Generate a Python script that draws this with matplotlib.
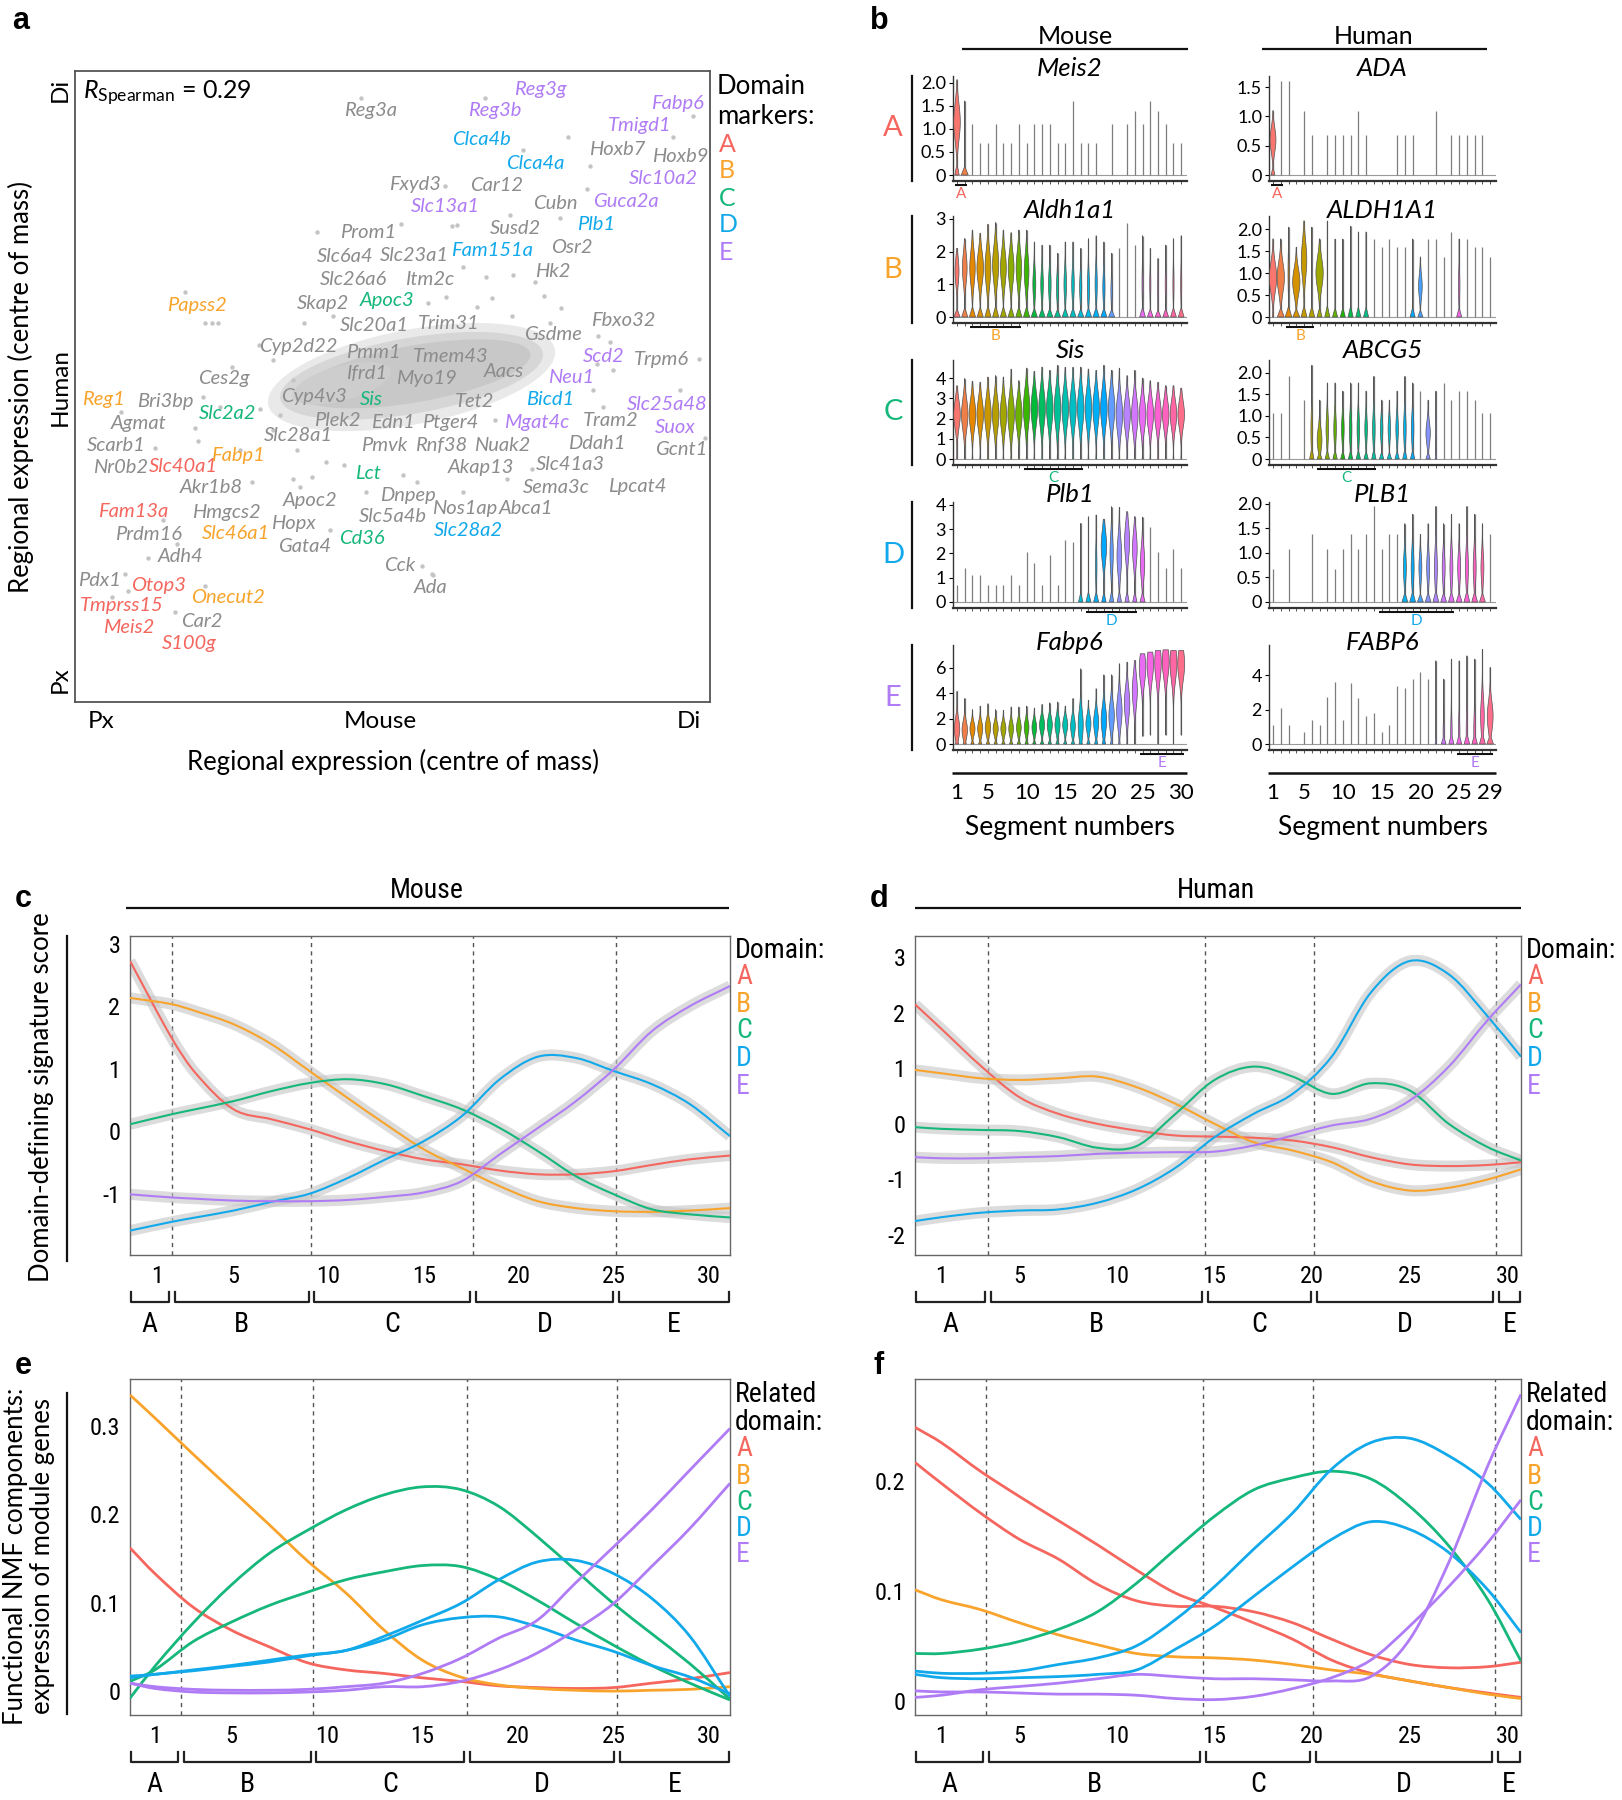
import numpy as np
import matplotlib
matplotlib.use('Agg')
import matplotlib.pyplot as plt
from matplotlib import font_manager as fm
from matplotlib.path import Path
from matplotlib.patches import PathPatch, Ellipse


def pick_font(names):
    for n in names:
        try:
            fm.findfont(fm.FontProperties(family=n), fallback_to_default=False)
            return n
        except ValueError:
            continue
    return 'DejaVu Sans'


SANS = pick_font(['Lato', 'Open Sans', 'DejaVu Sans'])
NARROW = pick_font(['Liberation Sans Narrow', 'Roboto Condensed', 'Roboto', SANS])
BOLD = pick_font(['Liberation Sans', 'DejaVu Sans'])

plt.rcParams['font.family'] = [SANS, 'DejaVu Sans']
plt.rcParams['mathtext.fontset'] = 'custom'
plt.rcParams['mathtext.rm'] = SANS
plt.rcParams['mathtext.it'] = SANS + ':italic'
plt.rcParams['axes.unicode_minus'] = False

W, H = 1622, 1800
DOMS = ['A', 'B', 'C', 'D', 'E']
COL = {'A': '#F4665E', 'B': '#F8A42C', 'C': '#16B77B', 'D': '#12A9EB', 'E': '#B07CF5', '': '#8C8C8C'}

# ---------------- panel a: gene labels (axes fraction) ----------------
gene_names = ['Reg3a', 'Reg3g', 'Reg3b', 'Fabp6', 'Tmigd1', 'Clca4b', 'Hoxb7', 'Hoxb9', 'Clca4a', 'Slc10a2',
              'Fxyd3', 'Car12', 'Slc13a1', 'Cubn', 'Guca2a', 'Prom1', 'Susd2', 'Plb1', 'Slc6a4', 'Slc23a1',
              'Fam151a', 'Osr2', 'Slc26a6', 'Itm2c', 'Hk2', 'Papss2', 'Skap2', 'Apoc3', 'Slc20a1', 'Trim31',
              'Fbxo32', 'Gsdme', 'Cyp2d22', 'Pmm1', 'Tmem43', 'Scd2', 'Trpm6', 'Ces2g', 'Ifrd1', 'Myo19',
              'Aacs', 'Neu1', 'Reg1', 'Bri3bp', 'Slc2a2', 'Cyp4v3', 'Sis', 'Tet2', 'Bicd1', 'Slc25a48',
              'Agmat', 'Plek2', 'Edn1', 'Ptger4', 'Mgat4c', 'Tram2', 'Suox', 'Scarb1', 'Slc28a1', 'Pmvk',
              'Rnf38', 'Nuak2', 'Ddah1', 'Gcnt1', 'Nr0b2', 'Slc40a1', 'Fabp1', 'Lct', 'Akap13', 'Slc41a3',
              'Akr1b8', 'Dnpep', 'Sema3c', 'Lpcat4', 'Fam13a', 'Hmgcs2', 'Apoc2', 'Nos1ap', 'Abca1', 'Prdm16',
              'Slc46a1', 'Hopx', 'Slc5a4b', 'Cd36', 'Slc28a2', 'Gata4', 'Adh4', 'Cck', 'Ada', 'Pdx1',
              'Otop3', 'Onecut2', 'Tmprss15', 'Car2', 'Meis2', 'S100g']
gene_x = [0.465, 0.732, 0.661, 0.948, 0.889, 0.640, 0.854, 0.953, 0.724, 0.926,
          0.535, 0.664, 0.583, 0.756, 0.868, 0.462, 0.694, 0.820, 0.426, 0.535,
          0.656, 0.782, 0.438, 0.559, 0.753, 0.192, 0.391, 0.491, 0.472, 0.588,
          0.863, 0.753, 0.352, 0.470, 0.591, 0.832, 0.924, 0.234, 0.459, 0.554,
          0.675, 0.781, 0.045, 0.142, 0.240, 0.376, 0.467, 0.630, 0.748, 0.933,
          0.100, 0.413, 0.501, 0.591, 0.727, 0.844, 0.946, 0.065, 0.352, 0.487,
          0.577, 0.672, 0.821, 0.955, 0.072, 0.170, 0.256, 0.462, 0.639, 0.780,
          0.215, 0.525, 0.758, 0.886, 0.091, 0.238, 0.370, 0.614, 0.710, 0.115,
          0.253, 0.344, 0.501, 0.451, 0.620, 0.361, 0.166, 0.512, 0.560, 0.038,
          0.131, 0.241, 0.073, 0.199, 0.084, 0.180]
gene_y = [0.938, 0.971, 0.937, 0.948, 0.913, 0.891, 0.875, 0.865, 0.854, 0.830,
          0.820, 0.819, 0.785, 0.790, 0.793, 0.744, 0.751, 0.757, 0.706, 0.707,
          0.716, 0.720, 0.670, 0.670, 0.682, 0.628, 0.631, 0.636, 0.596, 0.600,
          0.605, 0.582, 0.564, 0.554, 0.548, 0.548, 0.542, 0.512, 0.521, 0.513,
          0.523, 0.514, 0.479, 0.477, 0.457, 0.484, 0.479, 0.477, 0.479, 0.472,
          0.441, 0.446, 0.443, 0.443, 0.443, 0.446, 0.435, 0.407, 0.422, 0.407,
          0.406, 0.406, 0.410, 0.400, 0.372, 0.373, 0.390, 0.362, 0.371, 0.376,
          0.340, 0.328, 0.340, 0.342, 0.302, 0.301, 0.319, 0.306, 0.307, 0.266,
          0.267, 0.283, 0.294, 0.259, 0.272, 0.247, 0.230, 0.217, 0.182, 0.193,
          0.185, 0.166, 0.153, 0.127, 0.118, 0.092]
gene_dom = ['', 'E', 'E', 'E', 'E', 'D', '', '', 'D', 'E',
            '', '', 'E', '', 'E', '', '', 'D', '', '',
            'D', '', '', '', '', 'B', '', 'C', '', '',
            '', '', '', '', '', 'E', '', '', '', '',
            '', 'E', 'B', '', 'C', '', 'C', '', 'D', 'E',
            '', '', '', '', 'E', '', 'E', '', '', '',
            '', '', '', '', '', 'A', 'B', 'C', '', '',
            '', '', '', '', 'A', '', '', '', '', '',
            'B', '', '', 'C', 'D', '', '', '', '', '',
            'A', 'B', 'A', '', 'A', 'A']

# scattered genes outside the dense core (axes fraction)
dot_x = [0.451, 0.583, 0.514, 0.381, 0.601, 0.173, 0.205, 0.215, 0.225, 0.556, 0.585, 0.407, 0.360, 0.289,
         0.247, 0.646, 0.777, 0.706, 0.811, 0.942, 0.974, 0.806, 0.685, 0.764, 0.594, 0.611, 0.648, 0.690,
         0.724, 0.738, 0.766, 0.656, 0.633, 0.688, 0.824, 0.843, 0.748, 0.982, 0.848, 0.822, 0.073, 0.202,
         0.189, 0.194, 0.126, 0.260, 0.278, 0.139, 0.160, 0.115, 0.078, 0.084, 0.058, 0.157, 0.205, 0.344,
         0.354, 0.373, 0.396, 0.423, 0.459, 0.517, 0.538, 0.402, 0.546, 0.564, 0.312, 0.349, 0.312, 0.344,
         0.323, 0.291, 0.228, 0.953, 0.992, 0.832, 0.816, 0.661, 0.719, 0.680, 0.611, 0.562]
dot_y = [0.957, 0.817, 0.758, 0.745, 0.756, 0.649, 0.601, 0.601, 0.601, 0.632, 0.642, 0.611, 0.600, 0.566,
         0.531, 0.957, 0.896, 0.875, 0.850, 0.895, 0.929, 0.813, 0.771, 0.767, 0.754, 0.690, 0.673, 0.677,
         0.665, 0.643, 0.624, 0.641, 0.626, 0.611, 0.580, 0.571, 0.601, 0.543, 0.526, 0.536, 0.460, 0.484,
         0.434, 0.413, 0.402, 0.399, 0.349, 0.289, 0.251, 0.229, 0.203, 0.176, 0.166, 0.143, 0.184, 0.354,
         0.341, 0.357, 0.381, 0.375, 0.333, 0.360, 0.349, 0.273, 0.216, 0.201, 0.431, 0.399, 0.542, 0.510,
         0.455, 0.465, 0.468, 0.495, 0.419, 0.468, 0.494, 0.447, 0.370, 0.354, 0.333, 0.203]

# ---------------- panel b: violin summaries ----------------
mouse_genes = ['Meis2', 'Aldh1a1', 'Sis', 'Plb1', 'Fabp6']
human_genes = ['ADA', 'ALDH1A1', 'ABCG5', 'PLB1', 'FABP6']

meis2_top = [2.07, 1.61, 1.1, 0.69, 0.69, 1.1, 0.69, 0.69, 1.1, 0.69, 1.1, 1.1, 1.1, 0.69, 0.69,
             1.61, 0.69, 0.69, 0.69, 0, 1.1, 0, 1.1, 1.39, 1.1, 1.61, 1.39, 1.1, 0.69, 0.69]
meis2_mid = [1.15, 0.3] + [0] * 28
meis2_wmid = [0.9, 0] + [0] * 28
meis2_wbase = [0.6, 0.95] + [0] * 28

aldh1a1_top = [2.1, 2.4, 2.66, 2.56, 2.84, 2.89, 2.66, 2.58, 2.66, 2.66, 2.3, 2.2, 2.2, 1.95, 2.3,
               2.3, 2.1, 2.4, 2.49, 2.3, 1.95, 2.1, 2.89, 2.2, 2.49, 2.1, 1.79, 2.2, 2.4, 2.49]
aldh1a1_mid = [1.4, 1.5, 1.5, 1.5, 1.5, 1.6, 1.5, 1.5, 1.5, 1.4, 1.0, 1.0, 1.0, 0.9, 1.0,
               1.0, 0.9, 0.9, 1.0, 0.9, 0.8, 0, 0, 0, 1.0, 1.0, 0.9, 1.0, 1.0, 1.0]
aldh1a1_wmid = [0.55, 0.65, 0.75, 0.9, 0.8, 0.85, 0.8, 0.8, 0.75, 0.65, 0.4, 0.35, 0.35, 0.3, 0.35,
                0.35, 0.3, 0.3, 0.3, 0.3, 0.2, 0, 0, 0, 0.15, 0.15, 0.12, 0.15, 0.15, 0.15]
aldh1a1_wbase = [0.85] * 21 + [0, 0, 0] + [0.8] * 6

sis_top = [3.62, 3.97, 3.84, 3.79, 4.05, 4.12, 4.05, 4.44, 3.87, 4.49, 4.33, 4.54, 4.38, 4.63, 4.53,
           4.53, 4.54, 4.44, 4.38, 4.63, 4.38, 4.49, 4.12, 4.38, 4.0, 3.87, 3.79, 3.62, 3.62, 3.5]
sis_mid = [2.2] * 9 + [2.5] * 12 + [2.2] * 9
sis_wmid = [0.9] * 30
sis_wbase = [0.1] * 30

plb1_top = [0.69, 1.39, 1.1, 1.1, 0.69, 0.69, 0.69, 1.1, 0.69, 2.08, 1.61, 0.69, 1.95, 0.69, 2.56,
            2.49, 3.24, 3.52, 3.59, 3.41, 3.93, 3.9, 3.72, 3.52, 3.5, 3.1, 2.08, 1.39, 2.2, 1.39]
plb1_mid = [0] * 16 + [0, 0, 1.5, 2.3, 2.0, 1.9, 2.5, 2.2, 1.6] + [0] * 5
plb1_wmid = [0] * 16 + [0, 0, 0.2, 0.75, 0.45, 0.65, 0.7, 0.65, 0.6] + [0] * 5
plb1_wbase = [0] * 16 + [0.6, 0.7, 0.7, 0.6, 0.6, 0.6, 0.6, 0.6, 0.7] + [0] * 5

fabp6_top = [4.16, 3.59, 2.72, 3.0, 3.19, 2.72, 2.67, 2.93, 2.93, 3.0, 2.85, 3.12, 3.25, 3.32, 3.0,
             3.59, 5.94, 3.46, 4.37, 5.47, 5.47, 6.34, 6.47, 6.6, 7.12, 7.25, 7.38, 7.43, 7.38, 7.38]
fabp6_low = [0] * 24 + [0.6, 0.7, 0, 0.7, 0, 0.7]
fabp6_mid = [1.2, 1.1, 1.2, 1.2, 1.3, 1.2, 1.2, 1.2, 1.3, 1.3, 1.3, 1.5, 1.5, 1.5, 1.5,
             1.4, 1.5, 1.6, 1.7, 1.9, 2.2, 2.6, 3.2, 4.2, 6.0, 6.3, 6.4, 6.5, 6.4, 6.3]
fabp6_wmid = [0.75, 0.75, 0.7, 0.7, 0.75, 0.7, 0.7, 0.65, 0.65, 0.65, 0.65, 0.7, 0.7, 0.7, 0.7,
              0.65, 0.7, 0.7, 0.7, 0.75, 0.75, 0.75, 0.75, 0.7, 0.9, 0.9, 0.9, 0.95, 0.95, 0.95]
fabp6_wbase = [0.45] * 20 + [0.3, 0.2, 0.1, 0.05] + [0] * 6

ada_top = [1.1, 1.61, 1.61, 0, 1.1, 0.69, 0, 0.69, 0.69, 0.69, 0.69, 1.1, 0.69, 0, 0,
           0, 0.69, 0.69, 0.69, 0, 0, 1.1, 0, 0.69, 0.69, 0.69, 0.69, 0.69, 0]
ada_mid = [0.6] + [0] * 28
ada_wmid = [0.8] + [0] * 28
ada_wbase = [0.5] + [0] * 28

h_aldh1a1_top = [1.78, 1.78, 2.05, 1.59, 2.19, 2.05, 1.78, 2.19, 1.78, 1.78, 2.07, 1.94, 1.94, 1.78, 1.59,
                 1.78, 1.59, 1.59, 1.78, 1.37, 1.78, 1.78, 1.37, 1.94, 1.78, 1.78, 1.59, 1.59, 1.37]
h_aldh1a1_mid = [0.9, 0.9, 1.0, 0.8, 1.3, 0, 1.0, 0, 0, 0, 0, 0, 0, 0, 0,
                 0, 0, 0, 0, 0.7, 0, 0, 0, 0, 0.7, 0, 0, 0, 0]
h_aldh1a1_wmid = [1.0, 1.0, 0.15, 1.0, 0.75, 0, 1.0, 0, 0, 0, 0, 0, 0, 0, 0,
                  0, 0, 0, 0, 0.5, 0, 0, 0, 0, 0.2, 0, 0, 0, 0]
h_aldh1a1_wbase = [0.2, 0.95, 0.9, 0.95, 0.8, 0.8, 0.7, 0.7, 0.7, 0.7, 0.7, 0.7, 0.7, 0, 0,
                   0, 0, 0, 0.7, 0.7, 0, 0, 0, 0, 0.7, 0, 0, 0, 0]

abcg5_top = [1.08, 1.08, 1.92, 0, 1.37, 2.18, 1.37, 1.77, 1.77, 1.58, 1.77, 1.77, 1.58, 1.92, 1.37,
             1.37, 1.58, 1.92, 1.77, 1.58, 1.37, 1.58, 1.77, 1.37, 1.58, 1.58, 1.37, 1.08, 1.08]
abcg5_mid = [0] * 5 + [0.65, 0.45] + [0.7] * 12 + [0, 0.6, 0.7] + [0] * 7
abcg5_wmid = [0] * 5 + [0.25, 0.65] + [0.35] * 12 + [0, 0.6, 0.1] + [0] * 7
abcg5_wbase = [0] * 5 + [0.6, 0.7] + [0.6] * 12 + [0, 0.6, 0.2] + [0] * 7

h_plb1_top = [0.68, 0, 1.09, 0, 0, 1.38, 0, 1.09, 0.68, 1.09, 1.38, 1.09, 1.38, 1.95, 1.09,
              1.38, 1.38, 1.6, 1.79, 1.38, 1.6, 1.95, 1.6, 1.79, 1.6, 1.95, 1.79, 1.6, 1.38]
h_plb1_mid = [0] * 17 + [0.7] * 11 + [0]
h_plb1_wmid = [0] * 17 + [0.4] * 11 + [0]
h_plb1_wbase = [0] * 17 + [0.8] * 11 + [0]

h_fabp6_top = [1.1, 2.07, 1.1, 0, 0.68, 1.39, 1.1, 2.74, 3.61, 1.39, 3.52, 2.65, 1.62, 1.78, 0.68,
               1.1, 3.36, 3.23, 3.75, 4.19, 3.75, 4.83, 3.77, 4.93, 4.83, 5.12, 4.93, 5.49, 4.44]
h_fabp6_mid = [0] * 22 + [0.6, 0.6, 0.6, 0.7, 0.8, 1.6, 1.6]
h_fabp6_wmid = [0] * 22 + [0.15, 0.2, 0.2, 0.2, 0.25, 0.5, 0.8]
h_fabp6_wbase = [0] * 21 + [0.2, 0.65, 0.7, 0.7, 0.75, 0.75, 0.8, 0.9]

mouse_marks = [(1, 2), (3, 9), (10, 17), (18, 24), (25, 30)]
human_marks = [(1, 2), (3, 6), (7, 14), (15, 24), (25, 29)]
mouse_ymax = [2.15, 3.09, 4.89, 4.12, 7.81]
human_ymax = [1.69, 2.30, 2.30, 2.04, 5.74]
mouse_yticks = [[0, 0.5, 1, 1.5, 2], [0, 1, 2, 3], [0, 1, 2, 3, 4], [0, 1, 2, 3, 4], [0, 2, 4, 6]]
human_yticks = [[0, 0.5, 1, 1.5], [0, 0.5, 1, 1.5, 2], [0, 0.5, 1, 1.5, 2], [0, 0.5, 1, 1.5, 2], [0, 2, 4]]

# ---------------- panels c-f: smoothed profiles ----------------
c_x = [-0.44, 1.75, 3, 5, 7, 9, 11, 13, 15, 17, 19, 21, 23, 25, 27, 29, 31.1]
c_A = [2.72, 1.49, 0.93, 0.35, 0.19, 0.03, -0.16, -0.32, -0.45, -0.53, -0.63, -0.69, -0.69, -0.64, -0.54, -0.45, -0.39]
c_B = [2.13, 2.03, 1.92, 1.71, 1.39, 0.96, 0.53, 0.11, -0.29, -0.59, -0.88, -1.12, -1.23, -1.28, -1.29, -1.27, -1.23]
c_C = [0.11, 0.27, 0.35, 0.48, 0.64, 0.77, 0.83, 0.75, 0.56, 0.35, 0.05, -0.32, -0.72, -1.01, -1.25, -1.33, -1.38]
c_D = [-1.59, -1.45, -1.38, -1.27, -1.13, -1.0, -0.75, -0.45, -0.16, 0.24, 0.83, 1.19, 1.17, 0.96, 0.75, 0.43, -0.08]
c_E = [-1.01, -1.06, -1.08, -1.11, -1.12, -1.12, -1.1, -1.05, -0.98, -0.8, -0.37, 0.05, 0.48, 0.99, 1.6, 2.0, 2.32]
c_bounds = [1.75, 9.1, 17.6, 25.1]

d_x = [-0.35, 1, 3, 5, 7, 9, 11, 13, 15, 17, 19, 21, 23, 25, 27, 29, 30.7]
d_A = [2.15, 1.71, 1.05, 0.48, 0.18, 0.0, -0.12, -0.21, -0.23, -0.25, -0.3, -0.42, -0.6, -0.73, -0.76, -0.74, -0.69]
d_B = [0.97, 0.91, 0.82, 0.79, 0.82, 0.85, 0.66, 0.36, 0.0, -0.33, -0.48, -0.69, -1.03, -1.2, -1.15, -1.0, -0.82]
d_C = [-0.06, -0.09, -0.11, -0.13, -0.24, -0.43, -0.4, 0.18, 0.79, 1.03, 0.85, 0.54, 0.73, 0.6, 0.0, -0.42, -0.66]
d_D = [-1.75, -1.68, -1.6, -1.56, -1.54, -1.42, -1.18, -0.79, -0.24, 0.18, 0.54, 1.21, 2.36, 2.93, 2.69, 1.93, 1.21]
d_E = [-0.6, -0.62, -0.62, -0.6, -0.58, -0.54, -0.52, -0.51, -0.5, -0.39, -0.21, -0.03, 0.09, 0.42, 1.03, 1.87, 2.51]
d_bounds = [3.4, 14.5, 20.1, 29.4]

e_x = [-0.3, 1, 3, 5, 7, 9, 11, 13, 15, 17, 19, 21, 23, 25, 27, 29, 31.1]
e_A = [0.162, 0.133, 0.095, 0.069, 0.05, 0.032, 0.024, 0.02, 0.015, 0.011, 0.006, 0.004, 0.003, 0.004, 0.009, 0.014, 0.021]
e_B = [0.335, 0.309, 0.268, 0.228, 0.188, 0.147, 0.111, 0.069, 0.035, 0.016, 0.007, 0.003, 0.001, 0.0, 0.001, 0.002, 0.005]
e_C1 = [-0.008, 0.028, 0.077, 0.12, 0.156, 0.182, 0.205, 0.222, 0.231, 0.228, 0.209, 0.175, 0.137, 0.099, 0.065, 0.031, -0.009]
e_C2 = [0.011, 0.024, 0.056, 0.078, 0.097, 0.112, 0.126, 0.135, 0.142, 0.141, 0.126, 0.103, 0.077, 0.052, 0.029, 0.009, -0.01]
e_D1 = [0.017, 0.019, 0.024, 0.029, 0.035, 0.041, 0.046, 0.062, 0.08, 0.099, 0.126, 0.146, 0.148, 0.133, 0.105, 0.062, -0.006]
e_D2 = [0.015, 0.019, 0.023, 0.028, 0.033, 0.04, 0.046, 0.058, 0.075, 0.083, 0.084, 0.073, 0.058, 0.045, 0.029, 0.016, -0.003]
e_E1 = [0.009, 0.005, 0.002, 0.001, 0.001, 0.002, 0.005, 0.009, 0.02, 0.037, 0.06, 0.08, 0.122, 0.163, 0.205, 0.25, 0.297]
e_E2 = [0.009, 0.003, -0.001, -0.002, -0.002, -0.001, 0.001, 0.005, 0.005, 0.011, 0.024, 0.043, 0.069, 0.099, 0.141, 0.184, 0.235]
e_bounds = [2.35, 9.3, 17.35, 25.2]

f_x = [-0.35, 1, 3, 5, 7, 9, 11, 13, 15, 17, 19, 21, 23, 25, 27, 29, 30.7]
f_A1 = [0.249, 0.235, 0.209, 0.186, 0.164, 0.142, 0.119, 0.098, 0.085, 0.071, 0.056, 0.037, 0.025, 0.018, 0.012, 0.007, 0.003]
f_A2 = [0.217, 0.198, 0.171, 0.147, 0.129, 0.106, 0.091, 0.086, 0.086, 0.081, 0.071, 0.056, 0.042, 0.033, 0.03, 0.031, 0.035]
f_B = [0.101, 0.092, 0.083, 0.071, 0.06, 0.051, 0.043, 0.04, 0.039, 0.037, 0.033, 0.028, 0.024, 0.018, 0.012, 0.006, 0.002]
f_C = [0.043, 0.043, 0.047, 0.054, 0.065, 0.081, 0.107, 0.138, 0.168, 0.192, 0.203, 0.209, 0.202, 0.177, 0.141, 0.092, 0.036]
f_D1 = [0.027, 0.025, 0.025, 0.027, 0.033, 0.039, 0.05, 0.074, 0.104, 0.138, 0.171, 0.211, 0.235, 0.239, 0.223, 0.198, 0.165]
f_D2 = [0.024, 0.021, 0.02, 0.021, 0.022, 0.024, 0.028, 0.047, 0.068, 0.095, 0.122, 0.147, 0.163, 0.156, 0.135, 0.101, 0.062]
f_E1 = [0.003, 0.005, 0.01, 0.013, 0.016, 0.02, 0.024, 0.022, 0.02, 0.02, 0.019, 0.018, 0.022, 0.056, 0.126, 0.214, 0.279]
f_E2 = [0.009, 0.008, 0.008, 0.007, 0.006, 0.006, 0.005, 0.002, 0.001, 0.004, 0.011, 0.021, 0.037, 0.068, 0.104, 0.144, 0.183]
f_bounds = [3.3, 14.4, 20.05, 29.35]


# ---------------- helpers ----------------
def hue_pal(n):
    # ggplot2 default hue palette (hcl, l=65, c=100)
    out = []
    for h in np.linspace(15, 375, n + 1)[:n]:
        L, C = 65.0, 100.0
        u, v = C * np.cos(np.radians(h)), C * np.sin(np.radians(h))
        Y = ((L + 16) / 116) ** 3
        un, vn = 0.1978398 + u / (13 * L), 0.4683363 + v / (13 * L)
        X = 9 * Y * un / (4 * vn)
        Z = -X / 3 - 5 * Y + 3 * Y / vn
        rgb = [3.240479 * X - 1.537150 * Y - 0.498535 * Z,
               -0.969256 * X + 1.875992 * Y + 0.041556 * Z,
               0.055648 * X - 0.204043 * Y + 1.057311 * Z]
        res = []
        for c in rgb:
            c = 12.92 * c if c <= 0.0031308 else 1.055 * c ** (1 / 2.4) - 0.055
            res.append(min(max(c, 0.0), 1.0))
        out.append(res)
    return out


def smooth_path(x, y):
    x = np.asarray(x, float)
    y = np.asarray(y, float)
    n = len(x)
    verts, codes = [(x[0], y[0])], [Path.MOVETO]
    for i in range(n - 1):
        i0, i3 = max(i - 1, 0), min(i + 2, n - 1)
        h = x[i + 1] - x[i]
        m1 = (y[i + 1] - y[i0]) / (x[i + 1] - x[i0])
        m2 = (y[i3] - y[i]) / (x[i3] - x[i])
        verts += [(x[i] + h / 3, y[i] + m1 * h / 3), (x[i + 1] - h / 3, y[i + 1] - m2 * h / 3), (x[i + 1], y[i + 1])]
        codes += [Path.CURVE4] * 3
    return Path(verts, codes)


fig = plt.figure(figsize=(W / 100, H / 100), dpi=100)
ov = fig.add_axes([0, 0, 1, 1], zorder=5)
ov.set_xlim(0, W)
ov.set_ylim(H, 0)
ov.axis('off')


def box(l, t, r, b):
    return fig.add_axes([l / W, 1 - b / H, (r - l) / W, (b - t) / H])


def hline(x0, x1, y, lw=1.6, color='#111111'):
    ov.plot([x0, x1], [y, y], color=color, lw=lw, solid_capstyle='butt')


# panel letters
for s, (x, y) in zip('abcdef', [(21, 21), (879, 21), (23, 899), (879, 899), (23, 1366), (879, 1366)]):
    ov.text(x, y, s, fontsize=22, fontweight='bold', family=BOLD, ha='center', va='center')

# ================= panel a =================
axa = box(75, 71, 710, 702)
axa.set_xlim(0, 1)
axa.set_ylim(0, 1)
axa.set_xticks([])
axa.set_yticks([])
for sp in axa.spines.values():
    sp.set_color('#555555')
    sp.set_linewidth(1.3)
# dense central cloud of genes, drawn as nested shaded regions
axa.add_patch(Ellipse((0.53, 0.515), 0.46, 0.15, angle=11, color='#e4e4e4', alpha=0.8, lw=0))
axa.add_patch(Ellipse((0.53, 0.517), 0.42, 0.12, angle=10, color='#d6d6d6', lw=0))
axa.add_patch(Ellipse((0.535, 0.52), 0.37, 0.09, angle=10, color='#c8c8c8', lw=0))
axa.add_patch(Ellipse((0.42, 0.505), 0.16, 0.055, angle=15, color='#cdcdcd', lw=0))
axa.scatter(dot_x, dot_y, s=10, color='#c4c4c4', lw=0, zorder=2)
for name, x, y, d in zip(gene_names, gene_x, gene_y, gene_dom):
    axa.text(x, y, name, color=COL[d], style='italic', fontsize=14.5, ha='center', va='center', zorder=3)
axa.text(0.012, 0.965, r'$R_{\mathrm{Spearman}}$ = 0.29', fontsize=18, ha='left', va='center')

ov.text(717, 87, 'Domain', fontsize=18.5, va='center')
ov.text(717, 116, 'markers:', fontsize=18.5, va='center')
for d, y in zip(DOMS, [144, 171, 198, 225, 252]):
    ov.text(719, y, d, color=COL[d], fontsize=18, va='center')
for s, y in [('Di', 90), ('Human', 387), ('Px', 680)]:
    ov.text(60, y, s, fontsize=17.5, rotation=90, ha='center', va='center')
ov.text(21, 387, 'Regional expression (centre of mass)', fontsize=18.5, rotation=90, ha='center', va='center')
for s, x in [('Px', 101), ('Mouse', 380), ('Di', 689)]:
    ov.text(x, 722, s, fontsize=17.5, ha='center', va='center')
ov.text(393, 762, 'Regional expression (centre of mass)', fontsize=18.5, ha='center', va='center')

# ================= panel b =================
row_top = [76, 216, 360, 502, 645]
row_zero = [175, 317, 459, 602, 744]
title_y = [68, 210, 350, 495, 643]

mouse_rows = [
    (meis2_top, meis2_mid, meis2_wmid, meis2_wbase, [0] * 30),
    (aldh1a1_top, aldh1a1_mid, aldh1a1_wmid, aldh1a1_wbase, [0] * 30),
    (sis_top, sis_mid, sis_wmid, sis_wbase, [0] * 30),
    (plb1_top, plb1_mid, plb1_wmid, plb1_wbase, [0] * 30),
    (fabp6_top, fabp6_mid, fabp6_wmid, fabp6_wbase, fabp6_low),
]
human_rows = [
    (ada_top, ada_mid, ada_wmid, ada_wbase, [0] * 29),
    (h_aldh1a1_top, h_aldh1a1_mid, h_aldh1a1_wmid, h_aldh1a1_wbase, [0] * 29),
    (abcg5_top, abcg5_mid, abcg5_wmid, abcg5_wbase, [0] * 29),
    (h_plb1_top, h_plb1_mid, h_plb1_wmid, h_plb1_wbase, [0] * 29),
    (h_fabp6_top, h_fabp6_mid, h_fabp6_wmid, h_fabp6_wbase, [0] * 29),
]


def draw_violins(ax, row, cols):
    tops, mids, wmids, wbases, lows = row
    for i, (tp, md, wm, wb, lo) in enumerate(zip(tops, mids, wmids, wbases, lows)):
        x = i + 1
        if tp <= 0:
            continue
        ax.plot([x, x], [lo, tp], color='#7d7d7d', lw=0.9, zorder=2, solid_capstyle='butt')
        if wm <= 0 and wb <= 0:
            continue
        yy = np.linspace(lo, tp, 80)
        span = tp - lo
        hw = wm * np.exp(-0.5 * ((yy - md) / (0.19 * span)) ** 2) if wm > 0 else 0 * yy
        bh = max(0.12 * span, 0.15)
        hw = np.maximum(hw, wb * np.clip(1 - (yy - lo) / bh, 0, 1)) * 0.47
        xs = np.concatenate([x - hw, (x + hw)[::-1]])
        ys = np.concatenate([yy, yy[::-1]])
        ax.fill(xs, ys, facecolor=cols[i], edgecolor='#555555', lw=0.5, zorder=3)


def fmt_tick(v, halves):
    if v == 0:
        return '0'
    return '{:.1f}'.format(v) if halves else '{:d}'.format(int(v))


for side, genes, rows, ymaxs, yticks, marks, l, r, n in [
        ('m', mouse_genes, mouse_rows, mouse_ymax, mouse_yticks, mouse_marks, 953, 1187, 30),
        ('h', human_genes, human_rows, human_ymax, human_yticks, human_marks, 1269, 1496, 29)]:
    cols = hue_pal(n)
    for k in range(5):
        top, zero = row_top[k], row_zero[k]
        bottom = zero + 6
        ax = box(l, top, r, bottom)
        ymax = ymaxs[k]
        ax.set_xlim(0.48, n + 0.75)
        ax.set_ylim(-ymax * 6 / (zero - top), ymax)
        ax.axhline(0, color='#9a9a9a', lw=0.8, zorder=1)
        draw_violins(ax, rows[k], cols)
        for s in ['top', 'right']:
            ax.spines[s].set_visible(False)
        ax.spines['left'].set_color('#333333')
        ax.spines['left'].set_linewidth(1.0)
        ax.spines['bottom'].set_color('#333333')
        ax.spines['bottom'].set_linewidth(1.6)
        ax.set_xticks(range(1, n + 1))
        ax.tick_params(axis='x', length=2.5, width=0.7, color='#555555', labelbottom=False)
        halves = any(v % 1 for v in yticks[k])
        ax.set_yticks(yticks[k])
        ax.set_yticklabels([fmt_tick(v, halves) for v in yticks[k]])
        ax.tick_params(axis='y', length=3, width=0.8, labelsize=13, pad=2)
        hpx = bottom - top
        a0, a1 = marks[k]
        tr = ax.get_xaxis_transform()
        ax.plot([a0 - 0.3, a1 + 0.3], [-3.5 / hpx, -3.5 / hpx], transform=tr, clip_on=False,
                color='#111111', lw=1.5, solid_capstyle='butt')
        ax.text((a0 + a1) / 2, -13 / hpx, DOMS[k], transform=tr, color=COL[DOMS[k]],
                fontsize=11, ha='center', va='center')
        ov.text((l + r) / 2, title_y[k], genes[k], fontsize=18.5, style='italic', ha='center', va='center')
        if side == 'm':
            ov.plot([912, 912], [top, bottom], color='#111111', lw=1.6)
            ov.text(893, (top + bottom) / 2, DOMS[k], color=COL[DOMS[k]], fontsize=21, ha='center', va='center')
        if k == 4:
            labs = [1, 5, 10, 15, 20, 25, n]
            for v in labs:
                ax.text(v, -(793 - bottom) / hpx, str(v), transform=tr, fontsize=16, ha='center', va='center')
            hline(l - 1, r, 773, lw=1.8)
            ov.text((l + r) / 2, 827, 'Segment numbers', fontsize=19, ha='center', va='center')

ov.text(1075, 37, 'Mouse', fontsize=18, ha='center', va='center')
hline(962, 1188, 49)
ov.text(1374, 37, 'Human', fontsize=18, ha='center', va='center')
hline(1262, 1487, 49)

# ================= panels c-f =================
panels = [
    dict(box=(130, 936, 730, 1255), x=c_x, curves=[c_A, c_B, c_C, c_D, c_E], doms=DOMS,
         bounds=c_bounds, xlim=(-0.44, 31.1), ylim=(-1.98, 3.12), yticks=[-1, 0, 1, 2, 3],
         ylabels=['-1', '0', '1', '2', '3'], band=True, leg=['Domain:'], xtl=30),
    dict(box=(915, 936, 1521, 1255), x=d_x, curves=[d_A, d_B, d_C, d_D, d_E], doms=DOMS,
         bounds=d_bounds, xlim=(-0.35, 30.7), ylim=(-2.36, 3.38), yticks=[-2, -1, 0, 1, 2, 3],
         ylabels=['-2', '-1', '0', '1', '2', '3'], band=True, leg=['Domain:'], xtl=30),
    dict(box=(130, 1379, 730, 1715), x=e_x, curves=[e_A, e_B, e_C1, e_C2, e_D1, e_D2, e_E1, e_E2],
         doms=['A', 'B', 'C', 'C', 'D', 'D', 'E', 'E'], bounds=e_bounds, xlim=(-0.3, 31.1),
         ylim=(-0.027, 0.353), yticks=[0, 0.1, 0.2, 0.3], ylabels=['0', '0.1', '0.2', '0.3'],
         band=False, leg=['Related', 'domain:'], xtl=30),
    dict(box=(915, 1379, 1521, 1715), x=f_x, curves=[f_A1, f_A2, f_B, f_C, f_D1, f_D2, f_E1, f_E2],
         doms=['A', 'A', 'B', 'C', 'D', 'D', 'E', 'E'], bounds=f_bounds, xlim=(-0.35, 30.7),
         ylim=(-0.013, 0.293), yticks=[0, 0.1, 0.2], ylabels=['0', '0.1', '0.2'],
         band=False, leg=['Related', 'domain:'], xtl=30),
]

for p in panels:
    l, t, r, b = p['box']
    ax = box(l, t, r, b)
    ax.set_xlim(*p['xlim'])
    ax.set_ylim(*p['ylim'])
    for sp in ax.spines.values():
        sp.set_color('#666666')
        sp.set_linewidth(1.0)
    for bx in p['bounds']:
        ax.axvline(bx, color='#555555', lw=1.0, ls=(0, (3, 3)), zorder=1)
    if p['band']:
        for cv in p['curves']:
            ax.add_patch(PathPatch(smooth_path(p['x'], cv), fill=False, edgecolor='#c6c6c6',
                                   lw=8, alpha=0.6, capstyle='butt', zorder=2))
    for cv, d in zip(p['curves'], p['doms']):
        ax.add_patch(PathPatch(smooth_path(p['x'], cv), fill=False, edgecolor=COL[d],
                               lw=1.5 if p['band'] else 2.0, capstyle='butt', zorder=3))
    ax.set_yticks(p['yticks'])
    ax.set_yticklabels(p['ylabels'], family=NARROW, fontsize=17.5)
    ax.set_xticks([1, 5, 10, 15, 20, 25, p['xtl']])
    ax.set_xticklabels(['1', '5', '10', '15', '20', '25', str(p['xtl'])], family=NARROW, fontsize=17.5)
    ax.tick_params(length=0, pad=7)
    # domain brackets below the axis
    hpx = b - t
    tr = ax.get_xaxis_transform()
    edges = [p['xlim'][0]] + p['bounds'] + [p['xlim'][1]]
    y_top, y_bot, y_let = -37 / hpx, -47 / hpx, -69 / hpx
    for i in range(5):
        x0 = edges[i] + (0.05 if i == 0 else 0.15)
        x1 = edges[i + 1] - (0.05 if i == 4 else 0.15)
        ax.plot([x0, x0, x1, x1], [y_top, y_bot, y_bot, y_top], transform=tr, clip_on=False,
                color='#222222', lw=1.6)
        ax.text((x0 + x1) / 2, y_let, DOMS[i], transform=tr, family=NARROW, fontsize=20,
                ha='center', va='center')
    # legend text on the right
    xl = r + 5
    if len(p['leg']) == 1:
        ov.text(xl, t + 14, p['leg'][0], family=NARROW, fontsize=20, va='center')
        ys = [t + 41, t + 68, t + 95, t + 122, t + 150]
    else:
        ov.text(xl, t + 16, p['leg'][0], family=NARROW, fontsize=20, va='center')
        ov.text(xl, t + 44, p['leg'][1], family=NARROW, fontsize=20, va='center')
        ys = [t + 70, t + 97, t + 124, t + 150, t + 176]
    for d, y in zip(DOMS, ys):
        ov.text(xl + 1, y, d, color=COL[d], family=NARROW, fontsize=20, va='center')

ov.text(427, 890, 'Mouse', family=NARROW, fontsize=20, ha='center', va='center')
hline(126, 729, 908)
ov.text(1216, 890, 'Human', family=NARROW, fontsize=20, ha='center', va='center')
hline(915, 1521, 908)

ov.plot([67, 67], [936, 1261], color='#111111', lw=1.6)
ov.text(42, 1097, 'Domain-defining signature score', fontsize=18.5, rotation=90, ha='center', va='center')
ov.plot([67, 67], [1393, 1714], color='#111111', lw=1.6)
ov.text(29, 1556, 'Functional NMF components:\nexpression of module genes', fontsize=18.5,
        rotation=90, ha='center', va='center', linespacing=1.1)

fig.savefig('out.png', dpi=100)
